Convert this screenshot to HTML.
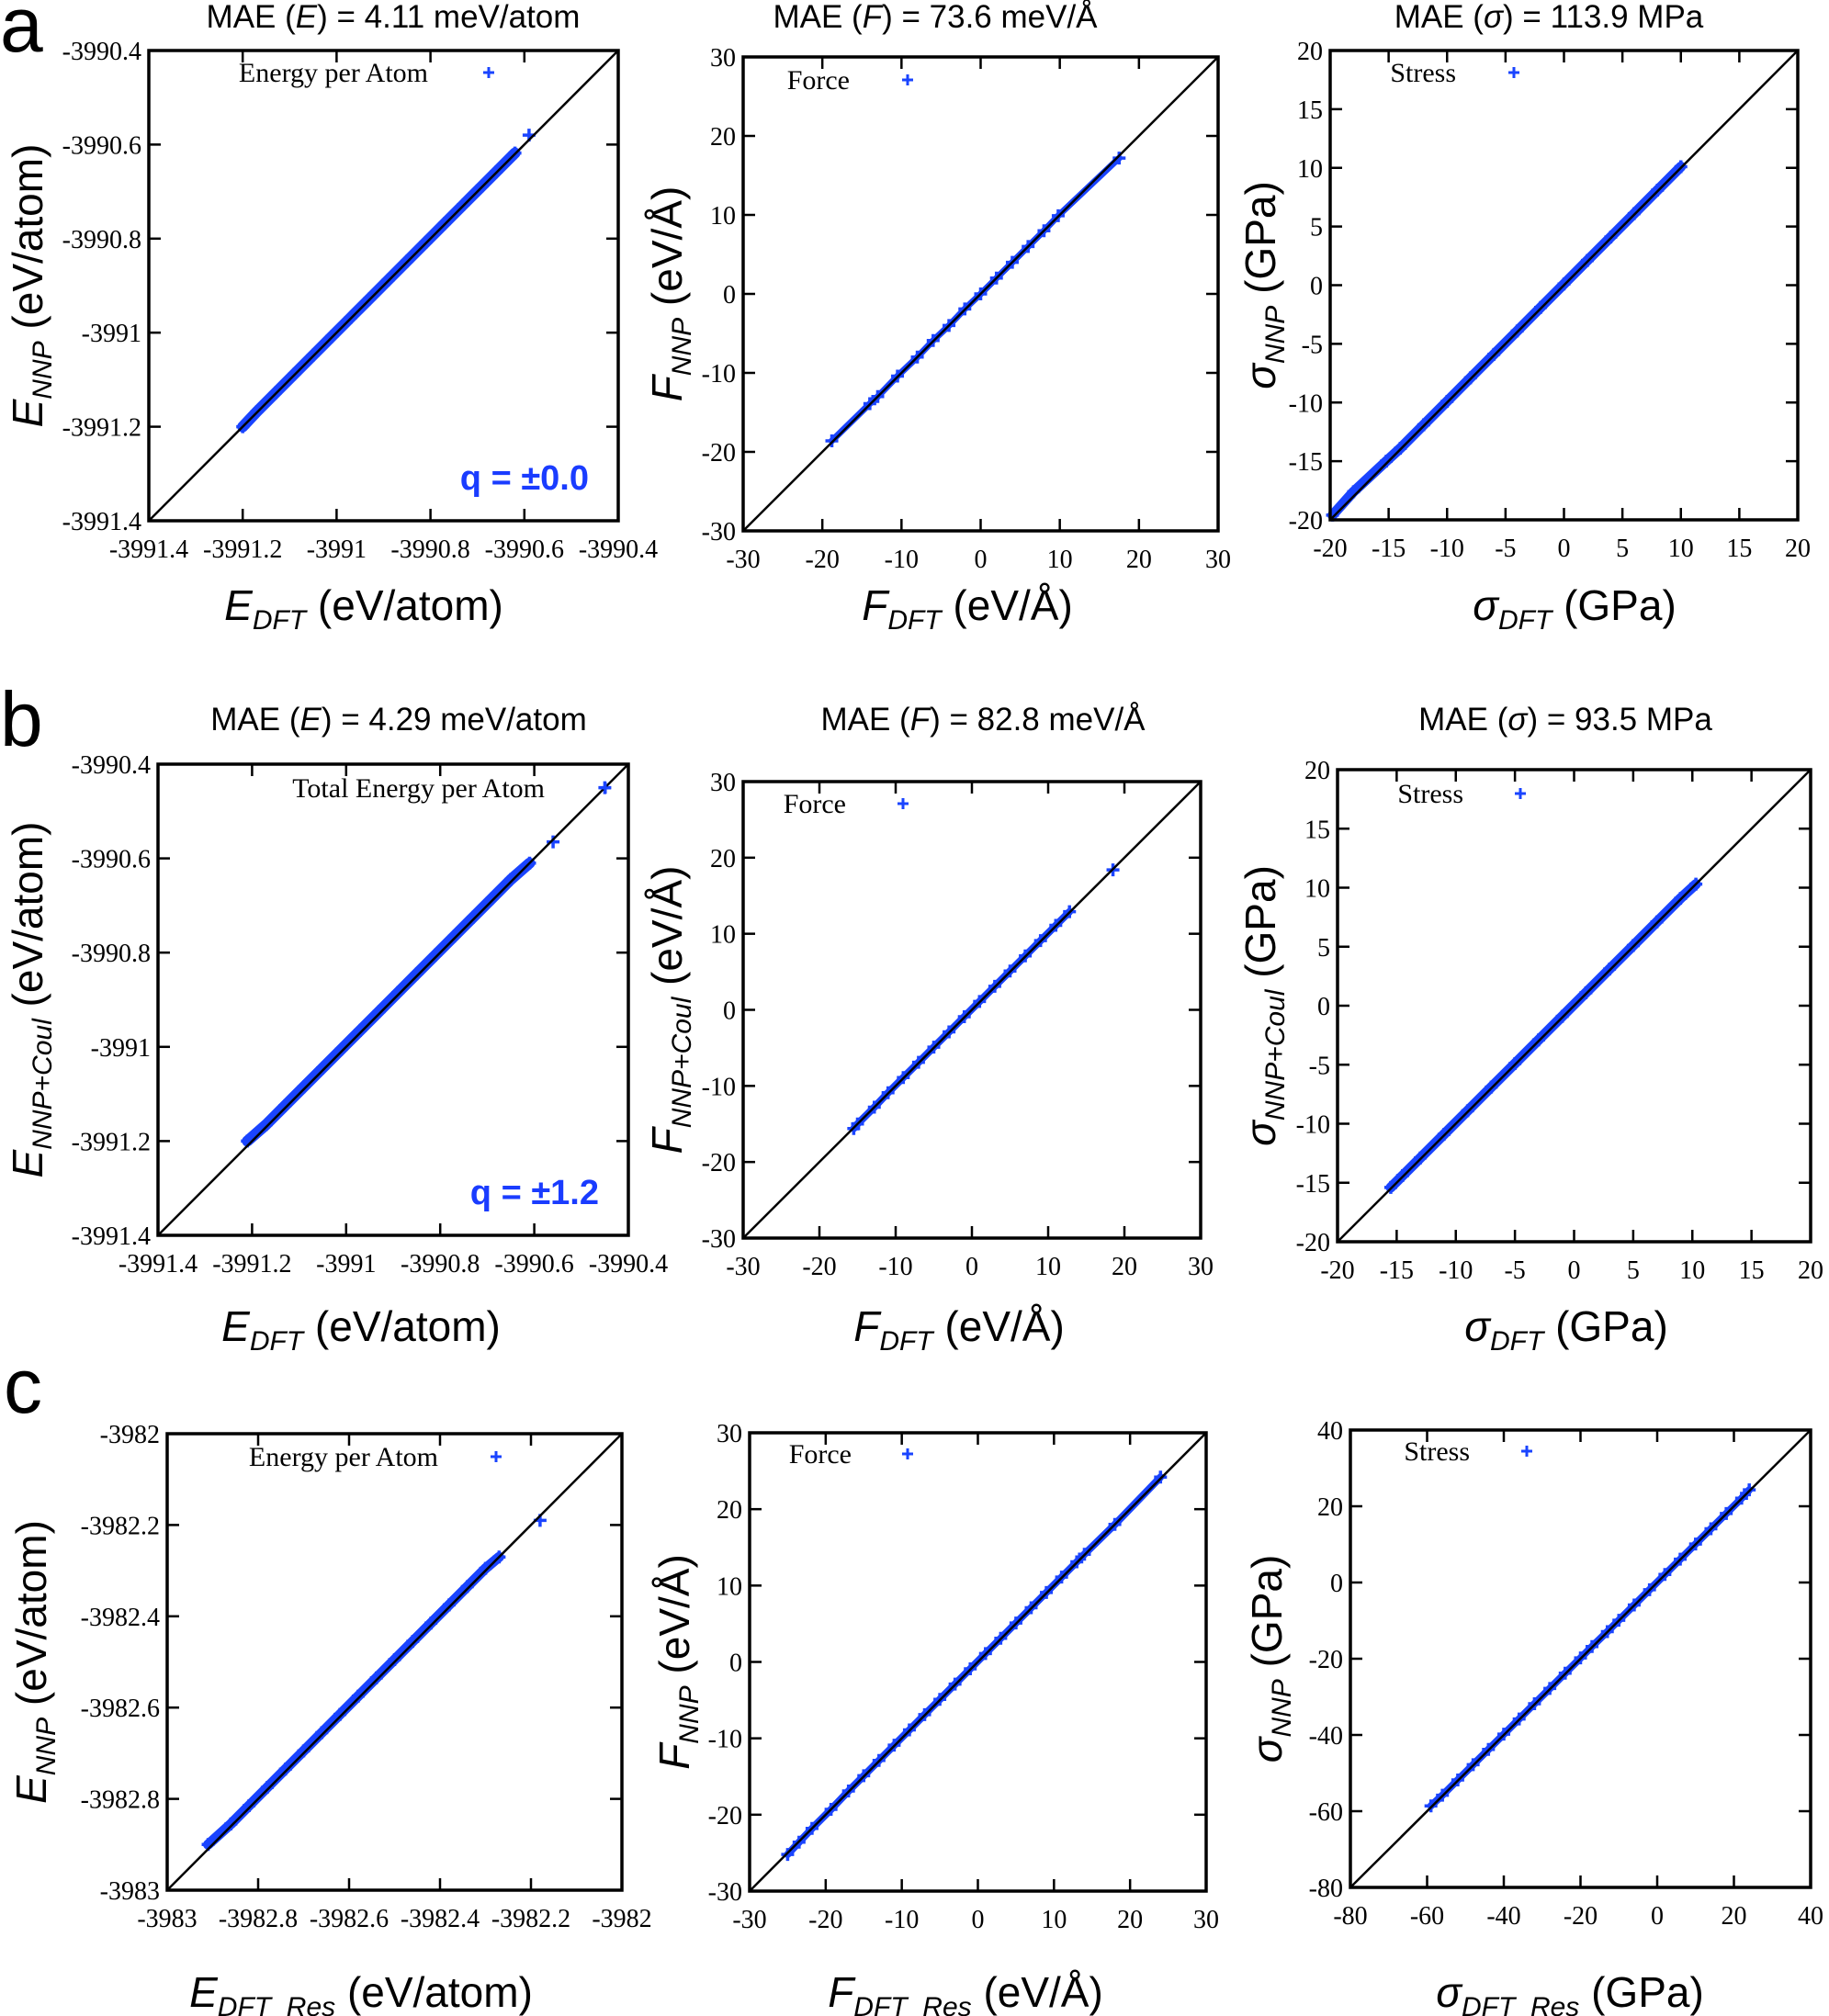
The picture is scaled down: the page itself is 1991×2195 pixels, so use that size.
<!DOCTYPE html>
<html><head><meta charset="utf-8"><style>
html,body{margin:0;padding:0;background:#fff;}
svg{display:block;}
.tk{font-family:"Liberation Serif",serif;font-size:28px;fill:#000;}
.tt{font-family:"Liberation Sans",sans-serif;font-size:35px;fill:#000;}
.al{font-family:"Liberation Sans",sans-serif;font-size:46px;fill:#000;}
.lg{font-family:"Liberation Serif",serif;font-size:30px;fill:#000;}
.pl{font-family:"Liberation Sans",sans-serif;font-size:84px;fill:#000;}
.q{font-family:"Liberation Sans",sans-serif;font-size:38px;font-weight:bold;fill:#1a3cff;}
</style></head><body>
<svg id="fig" width="1991" height="2195" viewBox="0 0 1991 2195" xmlns="http://www.w3.org/2000/svg">
<text class="pl" x="0" y="56">a</text>
<text class="pl" x="0" y="812">b</text>
<text class="pl" x="4" y="1538">c</text>
</svg>
<script>
// ---- data (DFT vs NNP values) ----
const a1X=[-3991.20,-3991.17,-3991.13,-3991.09,-3991.05,-3991.01,-3990.97,-3990.93,-3990.89,-3990.85,-3990.81,-3990.77,-3990.73,-3990.69,-3990.66,-3990.62,-3990.59];
const a1Y=[-3991.20,-3991.168,-3991.128,-3991.088,-3991.048,-3991.008,-3990.968,-3990.928,-3990.888,-3990.848,-3990.808,-3990.768,-3990.728,-3990.688,-3990.658,-3990.618,-3990.58];
const a2X=[-18.8,-14,-13,-10.5,-8,-6,-4,-2,0,2,4,6,8,9.8,17.5];
const a2Y=[-18.6,-13.9,-13.0,-10.4,-8.0,-5.9,-4.0,-1.9,0,2.0,4.0,6.0,8.0,9.9,17.2];
const a3X=[-19.8,-18,-15.2,-14,-12,-10,-8,-6,-4,-2,0,2,4,6,8,10];
const a3Y=[-19.6,-17.6,-15.0,-13.9,-11.9,-9.9,-7.9,-5.9,-3.9,-1.9,0.1,2.1,4.1,6.1,8.1,10.1];
const b1X=[-3991.21,-3991.17,-3991.13,-3991.09,-3991.05,-3991.01,-3990.97,-3990.93,-3990.89,-3990.85,-3990.81,-3990.77,-3990.73,-3990.69,-3990.65,-3990.61,-3990.56,-3990.45];
const b1Y=[-3991.20,-3991.165,-3991.125,-3991.085,-3991.045,-3991.005,-3990.965,-3990.925,-3990.885,-3990.845,-3990.805,-3990.765,-3990.725,-3990.685,-3990.645,-3990.61,-3990.565,-3990.45];
const b2X=[-15.5,-15,-12.8,-11,-9,-7,-5,-3,-1,1,3,5,7,9,11,12.8,18.5];
const b2Y=[-15.6,-15.0,-12.8,-10.9,-8.9,-6.9,-4.9,-2.9,-0.9,1.1,3.1,5.1,7.1,9.1,11.1,12.9,18.4];
const b3X=[-15.5,-14.5,-13,-11,-9,-7,-5,-3,-1,1,3,5,7,9,10.3];
const b3Y=[-15.4,-14.4,-12.9,-10.9,-8.9,-6.9,-4.9,-2.9,-0.9,1.1,3.1,5.1,7.1,9.1,10.3];
const c1X=[-3982.91,-3982.86,-3982.82,-3982.78,-3982.74,-3982.70,-3982.66,-3982.62,-3982.58,-3982.54,-3982.50,-3982.46,-3982.42,-3982.38,-3982.34,-3982.30,-3982.27,-3982.18];
const c1Y=[-3982.90,-3982.855,-3982.815,-3982.775,-3982.735,-3982.695,-3982.655,-3982.615,-3982.575,-3982.535,-3982.495,-3982.455,-3982.415,-3982.375,-3982.335,-3982.295,-3982.27,-3982.19];
const c2X=[-25,-23.5,-21.8,-19.3,-17,-15,-13,-11,-9,-7,-5,-3,-1,1,3,5,7,9,11,13,14,18,24];
const c2Y=[-25.2,-23.6,-21.8,-19.3,-16.9,-14.9,-12.9,-10.9,-8.9,-6.9,-4.9,-2.9,-0.9,1.1,3.1,5.1,7.1,9.1,11.1,13.1,14.1,18,24.2];
const c3X=[-59,-56,-52,-48,-44,-40,-36,-32,-28,-24,-20,-17,-13,-10,-6,-2,2,6,10,14,18,22,24];
const c3Y=[-58.6,-55.8,-51.8,-47.8,-43.8,-39.8,-35.8,-31.8,-27.8,-23.8,-19.8,-16.8,-12.9,-9.9,-5.9,-1.9,2.1,6.1,10.1,14.1,18.1,22.1,24.3];
const eTicksA=[-3991.4,-3991.2,-3991,-3990.8,-3990.6,-3990.4];
const eTicksC=[-3983,-3982.8,-3982.6,-3982.4,-3982.2,-3982];
const fTicks=[-30,-20,-10,0,10,20,30];
const sTicks=[-20,-15,-10,-5,0,5,10,15,20];
const sTicksC=[-80,-60,-40,-20,0,20,40];

const NS="http://www.w3.org/2000/svg";
const svg=document.getElementById('fig');
function mk(tag,attrs,parent){const e=document.createElementNS(NS,tag);for(const k in attrs)e.setAttribute(k,attrs[k]);(parent||svg).appendChild(e);return e;}
function fmt(v){return String(+v.toFixed(2));}

function panel(p){
  const g=mk('g',{});
  
  
  const sx=v=>p.L+(v-p.min)/(p.max-p.min)*(p.R-p.L);
  const sy=v=>p.B-(v-p.min)/(p.max-p.min)*(p.B-p.T);
  p.ticks.forEach(t=>{
    const x=sx(t),y=sy(t);
    mk('line',{x1:x,y1:p.B,x2:x,y2:p.B-13,stroke:'#000','stroke-width':2.5},g);
    mk('line',{x1:x,y1:p.T,x2:x,y2:p.T+13,stroke:'#000','stroke-width':2.5},g);
    mk('line',{x1:p.L,y1:y,x2:p.L+13,y2:y,stroke:'#000','stroke-width':2.5},g);
    mk('line',{x1:p.R,y1:y,x2:p.R-13,y2:y,stroke:'#000','stroke-width':2.5},g);
    const xl=mk('text',{class:'tk',x:x,y:p.B+40,'text-anchor':'middle'},g);
    xl.textContent=fmt(t);
    
    
    const yl=mk('text',{class:'tk',x:p.L-8,y:y+10,'text-anchor':'end'},g);
    yl.textContent=fmt(t);
    
    
  });
  const pts=p.xs.map((x,i)=>[sx(x),sy(p.ys[i])]);
  const band=mk('polyline',{points:pts.slice(0,p.bandN||pts.length).map(q=>q.join(',')).join(' '),fill:'none',stroke:'#1a44ff','stroke-width':p.bw||10,'stroke-linecap':'round','stroke-linejoin':'round'},g);
  
  
  pts.forEach(q=>{
    const pl=mk('path',{d:`M${q[0]-7},${q[1]}h14M${q[0]},${q[1]-7}v14`,stroke:'#1a44ff','stroke-width':3.5},g);
    
    
  });
  const d=mk('line',{x1:sx(p.min),y1:sy(p.min),x2:sx(p.max),y2:sy(p.max),stroke:'#000','stroke-width':2.5},g);
  
  
  const fr=mk('rect',{x:p.L,y:p.T,width:p.R-p.L,height:p.B-p.T,fill:'none',stroke:'#000','stroke-width':3.5},g);
  
  
  const lt=mk('text',{class:'lg',x:p.legX,y:p.legY+10,'text-anchor':'end'},g);
  lt.textContent=p.leg;
  
  
  const lm=mk('path',{d:`M${p.legM-6},${p.legY}h12M${p.legM},${p.legY-6}v12`,stroke:'#1a44ff','stroke-width':3},g);
  
  
  if(p.title){
    const t=mk('text',{class:'tt',x:p.tx,y:p.ty,'text-anchor':'middle'},g);
    t.innerHTML=p.title;
    
    
  }
  const xa=mk('text',{class:'al',x:p.xax,y:p.xay,'text-anchor':'middle'},g);
  xa.innerHTML=p.xlab;
  
  
  const ya=mk('text',{class:'al',x:0,y:0,'text-anchor':'middle',transform:`translate(${p.yax},${(p.T+p.B)/2}) rotate(-90)`},g);
  ya.innerHTML=p.ylab;
  
  
  if(p.q){
    const q=mk('text',{class:'q',x:p.R-32,y:p.B-34,'text-anchor':'end'},g);
    q.textContent=p.q;
    
    
  }
}
const sub=(s)=>`<tspan font-size="30" dy="10" font-style="italic">${s}</tspan><tspan dy="-10"> </tspan>`;
const E='<tspan font-style="italic">E</tspan>', F='<tspan font-style="italic">F</tspan>', S='<tspan font-style="italic">σ</tspan>';

panel({name:'panel-a-energy',L:162,R:673,T:55,B:567,min:-3991.4,max:-3990.4,ticks:eTicksA,xs:a1X,ys:a1Y,bandN:16,bw:12,
 leg:'Energy per Atom',legX:466,legM:532,legY:79,title:`MAE (${E}) = 4.11 meV/atom`,tx:428,ty:30,
 xlab:`${E}${sub('DFT')}(eV/atom)`,xax:396,xay:675,ylab:`${E}${sub('NNP')}(eV/atom)`,yax:46,q:'q = ±0.0'});
panel({name:'panel-a-force',L:809,R:1326,T:62,B:578,min:-30,max:30,ticks:fTicks,xs:a2X,ys:a2Y,bw:7,
 leg:'Force',legX:925,legM:988,legY:87,title:`MAE (${F}) = 73.6 meV/Å`,tx:1018,ty:30,
 xlab:`${F}${sub('DFT')}(eV/Å)`,xax:1053,xay:675,ylab:`${F}${sub('NNP')}(eV/Å)`,yax:742});
panel({name:'panel-a-stress',L:1448,R:1957,T:55,B:566,min:-20,max:20,ticks:sTicks,xs:a3X,ys:a3Y,bw:11,
 leg:'Stress',legX:1585,legM:1648,legY:79,title:`MAE (${S}) = 113.9 MPa`,tx:1686,ty:30,
 xlab:`${S}${sub('DFT')}(GPa)`,xax:1714,xay:675,ylab:`${S}${sub('NNP')}(GPa)`,yax:1388});
panel({name:'panel-b-energy',L:172,R:684,T:832,B:1345,min:-3991.4,max:-3990.4,ticks:eTicksA,xs:b1X,ys:b1Y,bandN:16,bw:12,
 leg:'Total Energy per Atom',legX:593,legM:659,legY:858,title:`MAE (${E}) = 4.29 meV/atom`,tx:434,ty:795,
 xlab:`${E}${sub('DFT')}(eV/atom)`,xax:393,xay:1460,ylab:`${E}${sub('NNP+Coul')}(eV/atom)`,yax:46,q:'q = ±1.2'});
panel({name:'panel-b-force',L:809,R:1307,T:851,B:1348,min:-30,max:30,ticks:fTicks,xs:b2X,ys:b2Y,bw:8,bandN:16,
 leg:'Force',legX:921,legM:983,legY:875,title:`MAE (${F}) = 82.8 meV/Å`,tx:1070,ty:795,
 xlab:`${F}${sub('DFT')}(eV/Å)`,xax:1044,xay:1460,ylab:`${F}${sub('NNP+Coul')}(eV/Å)`,yax:742});
panel({name:'panel-b-stress',L:1456,R:1971,T:838,B:1352,min:-20,max:20,ticks:sTicks,xs:b3X,ys:b3Y,bw:11,
 leg:'Stress',legX:1593,legM:1655,legY:864,title:`MAE (${S}) = 93.5 MPa`,tx:1704,ty:795,
 xlab:`${S}${sub('DFT')}(GPa)`,xax:1705,xay:1460,ylab:`${S}${sub('NNP+Coul')}(GPa)`,yax:1388});
panel({name:'panel-c-energy',L:182,R:677,T:1561,B:2058,min:-3983,max:-3982,ticks:eTicksC,xs:c1X,ys:c1Y,bandN:17,bw:11,
 leg:'Energy per Atom',legX:477,legM:540,legY:1586,
 xlab:`${E}${sub('DFT_Res')}(eV/atom)`,xax:393,xay:2185,ylab:`${E}${sub('NNP')}(eV/atom)`,yax:50});
panel({name:'panel-c-force',L:816,R:1313,T:1560,B:2059,min:-30,max:30,ticks:fTicks,xs:c2X,ys:c2Y,bw:8,
 leg:'Force',legX:927,legM:988,legY:1583,
 xlab:`${F}${sub('DFT_Res')}(eV/Å)`,xax:1051,xay:2185,ylab:`${F}${sub('NNP')}(eV/Å)`,yax:750});
panel({name:'panel-c-stress',L:1470,R:1971,T:1557,B:2055,min:-80,max:40,ticks:sTicksC,xs:c3X,ys:c3Y,bw:8,
 leg:'Stress',legX:1600,legM:1662,legY:1580,
 xlab:`${S}${sub('DFT_Res')}(GPa)`,xax:1709,xay:2185,ylab:`${S}${sub('NNP')}(GPa)`,yax:1395});
</script>
</body></html>
